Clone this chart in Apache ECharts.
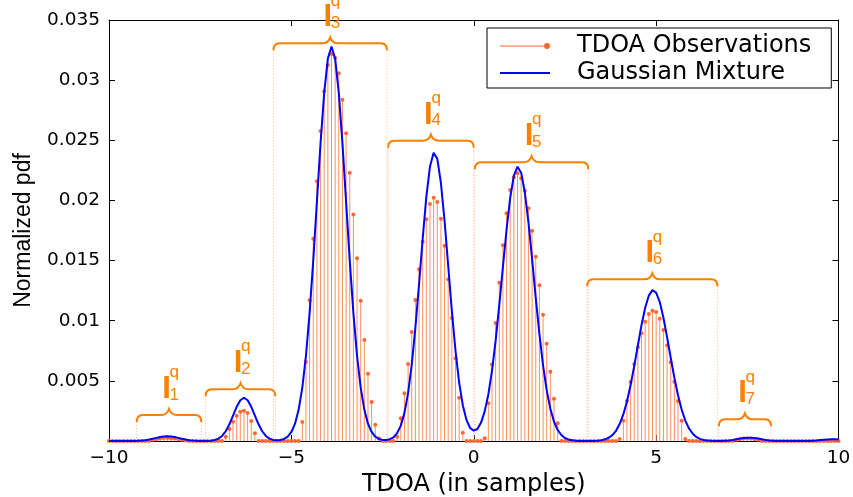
<!DOCTYPE html>
<html>
<head>
<meta charset="utf-8">
<script src="https://cdn.jsdelivr.net/npm/echarts/dist/echarts.min.js"></script>
<style>
html, body { margin: 0; padding: 0; background: #ffffff; }
#chart { width: 853px; height: 497px; }
</style>
</head>
<body>
<div id="chart"></div>
<script>
// TDOA sample positions (samples)
const tdoa = [
  -10, -9.9, -9.8, -9.7, -9.6, -9.5, -9.4, -9.3, -9.2, -9.1,
  -9, -8.9, -8.8, -8.7, -8.6, -8.5, -8.4, -8.3, -8.2, -8.1,
  -8, -7.9, -7.8, -7.7, -7.6, -7.5, -7.4, -7.3, -7.2, -7.1,
  -7, -6.9, -6.8, -6.7, -6.6, -6.5, -6.4, -6.3, -6.2, -6.1,
  -6, -5.9, -5.8, -5.7, -5.6, -5.5, -5.4, -5.3, -5.2, -5.1,
  -5, -4.9, -4.8, -4.7, -4.6, -4.5, -4.4, -4.3, -4.2, -4.1,
  -4, -3.9, -3.8, -3.7, -3.6, -3.5, -3.4, -3.3, -3.2, -3.1,
  -3, -2.9, -2.8, -2.7, -2.6, -2.5, -2.4, -2.3, -2.2, -2.1,
  -2, -1.9, -1.8, -1.7, -1.6, -1.5, -1.4, -1.3, -1.2, -1.1,
  -1, -0.9, -0.8, -0.7, -0.6, -0.5, -0.4, -0.3, -0.2, -0.1,
  0, 0.1, 0.2, 0.3, 0.4, 0.5, 0.6, 0.7, 0.8, 0.9,
  1, 1.1, 1.2, 1.3, 1.4, 1.5, 1.6, 1.7, 1.8, 1.9,
  2, 2.1, 2.2, 2.3, 2.4, 2.5, 2.6, 2.7, 2.8, 2.9,
  3, 3.1, 3.2, 3.3, 3.4, 3.5, 3.6, 3.7, 3.8, 3.9,
  4, 4.1, 4.2, 4.3, 4.4, 4.5, 4.6, 4.7, 4.8, 4.9,
  5, 5.1, 5.2, 5.3, 5.4, 5.5, 5.6, 5.7, 5.8, 5.9,
  6, 6.1, 6.2, 6.3, 6.4, 6.5, 6.6, 6.7, 6.8, 6.9,
  7, 7.1, 7.2, 7.3, 7.4, 7.5, 7.6, 7.7, 7.8, 7.9,
  8, 8.1, 8.2, 8.3, 8.4, 8.5, 8.6, 8.7, 8.8, 8.9,
  9, 9.1, 9.2, 9.3, 9.4, 9.5, 9.6, 9.7, 9.8, 9.9,
  10
];

// Observed normalized pdf (stems)
const observations = [
  0, 0, 0, 0, 0, 0, 0, 0, 0, 0,
  0, 0, 0.0001, 0.00015, 0.0002, 0.00025, 0.00025, 0.0002, 0.0002, 0.00015,
  0.0001, 0.00005, 0, 0, 0, 0, 0, 0, 0, 0,
  0, 0, 0.00036, 0.001, 0.0016, 0.0021, 0.00244, 0.00252, 0.00233, 0.00166,
  0.00064, 0, 0, 0, 0, 0, 0, 0, 0, 0,
  0, 0, 0, 0.00158, 0.00657, 0.0117, 0.01682, 0.02159, 0.02577, 0.02907,
  0.03126, 0.03218, 0.03184, 0.03057, 0.02838, 0.02558, 0.02231, 0.01882, 0.01519, 0.01167,
  0.0084, 0.0056, 0.00324, 0.00136, 0.0002, 0, 0, 0, 0, 0.00036,
  0.00189, 0.00396, 0.0064, 0.00906, 0.01172, 0.01427, 0.01657, 0.01843, 0.0197, 0.02023,
  0.01987, 0.01848, 0.01624, 0.01344, 0.01023, 0.00687, 0.0036, 0.00069, 0, 0,
  0, 0, 0, 0.00022, 0.00313, 0.00637, 0.00981, 0.01316, 0.01627, 0.01893,
  0.02087, 0.02192, 0.02226, 0.02184, 0.02081, 0.01935, 0.01748, 0.01532, 0.01294, 0.0105,
  0.00809, 0.00576, 0.00352, 0.00147, 0, 0, 0, 0, 0, 0,
  0, 0, 0, 0, 0, 0, 0, 0, 0, 0,
  0.00017, 0.00169, 0.00333, 0.0049, 0.0064, 0.00779, 0.00895, 0.00992, 0.01056, 0.01083,
  0.01073, 0.01017, 0.00923, 0.00796, 0.00654, 0.00493, 0.00333, 0.00169, 0.00017, 0,
  0, 0, 0, 0, 0, 0, 0, 0, 0, 0,
  0, 0, 0.0001, 0.00015, 0.0002, 0.0002, 0.0002, 0.00015, 0.0001, 0,
  0, 0, 0, 0, 0, 0, 0, 0, 0, 0,
  0, 0, 0, 0, 0, 0, 0, 0, 0, 0,
  0
];

// Fitted Gaussian mixture pdf
const mixture = [
  0, 0, 0, 0, 0, 0, 0, 0.00001, 0.00002, 0.00004,
  0.00007, 0.00012, 0.00018, 0.00026, 0.00033, 0.00038, 0.0004, 0.00038, 0.00033, 0.00026,
  0.00018, 0.00012, 0.00007, 0.00004, 0.00002, 0.00001, 0, 0.00001, 0.00003, 0.00008,
  0.0002, 0.00042, 0.00081, 0.00139, 0.00211, 0.00284, 0.00339, 0.0036, 0.00339, 0.00284,
  0.00211, 0.00139, 0.00081, 0.00042, 0.0002, 0.00009, 0.00006, 0.00008, 0.00017, 0.00036,
  0.00075, 0.00144, 0.00261, 0.00444, 0.00709, 0.01065, 0.01502, 0.01989, 0.02476, 0.02895,
  0.03179, 0.0328, 0.03179, 0.02895, 0.02476, 0.01989, 0.01502, 0.01065, 0.00709, 0.00444,
  0.00261, 0.00144, 0.00075, 0.00036, 0.00017, 0.00009, 0.00009, 0.00015, 0.00031, 0.00066,
  0.00128, 0.00234, 0.00398, 0.00634, 0.00941, 0.01303, 0.01683, 0.0203, 0.02283, 0.02397,
  0.02347, 0.02145, 0.01829, 0.01456, 0.0108, 0.0075, 0.00486, 0.00297, 0.00175, 0.00108,
  0.00086, 0.001, 0.00153, 0.00246, 0.00387, 0.00583, 0.00834, 0.01129, 0.01448, 0.01758,
  0.02024, 0.02207, 0.0228, 0.0223, 0.02068, 0.01817, 0.01512, 0.0119, 0.0089, 0.00629,
  0.00422, 0.00268, 0.00161, 0.00092, 0.0005, 0.00025, 0.00012, 0.00006, 0.00002, 0.00001,
  0, 0, 0.00001, 0.00001, 0.00003, 0.00007, 0.00014, 0.00027, 0.00049, 0.00085,
  0.00141, 0.00221, 0.00329, 0.00465, 0.00624, 0.00796, 0.00964, 0.01108, 0.01209, 0.01254,
  0.01234, 0.01155, 0.01025, 0.00864, 0.00692, 0.00526, 0.0038, 0.00261, 0.0017, 0.00105,
  0.00062, 0.00034, 0.00018, 0.00009, 0.00004, 0.00002, 0.00001, 0, 0.00001, 0.00003,
  0.00005, 0.00009, 0.00014, 0.0002, 0.00025, 0.00028, 0.00028, 0.00025, 0.0002, 0.00014,
  0.00009, 0.00005, 0.00003, 0.00001, 0, 0, 0, 0, 0, 0,
  0, 0.00001, 0.00001, 0.00003, 0.00005, 0.00008, 0.00011, 0.00013, 0.00015, 0.00015,
  0.00013
];

// Interval braces I^q_k: start, end (samples) and brace level (pdf units)
const segStart = [-9.24, -7.35, -5.49, -2.35, 0.03, 3.11, 6.72];
const segEnd   = [-7.47, -5.44, -2.38, 0.0, 3.14, 6.68, 8.15];
const segLevel = [0.00216, 0.0043, 0.03306, 0.02497, 0.02317, 0.01344, 0.0018];
const segIndex = ['1', '2', '3', '4', '5', '6', '7'];

const seriesNames = ['TDOA Observations', 'Gaussian Mixture'];
const xTitle = 'TDOA (in samples)';
const yTitle = 'Normalized pdf';

const ORANGE = '#ff8000';
const STEM = '#ff8f5e';
const DOT = '#ff6633';
const BLUE = '#0000ff';

const chart = echarts.init(document.getElementById('chart'), null, { renderer: 'canvas' });

function renderStem(params, api) {
  const x = api.value(0);
  const v = api.value(1);
  const top = api.coord([x, v]);
  const base = api.coord([x, 0]);
  const children = [];
  if (v > 0) {
    children.push({
      type: 'line',
      shape: { x1: top[0], y1: base[1], x2: top[0], y2: top[1] },
      style: { stroke: STEM, lineWidth: 1 }
    });
  }
  children.push({
    type: 'circle',
    shape: { cx: top[0], cy: top[1], r: 2 },
    style: { fill: DOT }
  });
  return { type: 'group', children: children };
}

function renderBrace(params, api) {
  const a = api.coord([api.value(0), api.value(2)]);
  const b = api.coord([api.value(1), api.value(2)]);
  const base = api.coord([api.value(0), 0])[1];
  const x1 = a[0], x2 = b[0], y = a[1], tm = (x1 + x2) / 2;
  const d = 7, r = 6, h = 6, w = 8;
  const path = 'M' + x1 + ',' + (y + d) +
    ' Q' + x1 + ',' + y + ' ' + (x1 + r) + ',' + y +
    ' L' + (tm - w) + ',' + y +
    ' Q' + (tm - 2) + ',' + y + ' ' + tm + ',' + (y - h) +
    ' Q' + (tm + 2) + ',' + y + ' ' + (tm + w) + ',' + y +
    ' L' + (x2 - r) + ',' + y +
    ' Q' + x2 + ',' + y + ' ' + x2 + ',' + (y + d);
  const k = segIndex[params.dataIndex];
  const dotted = { stroke: '#ffb48c', lineWidth: 1, lineDash: [1, 2] };
  return {
    type: 'group',
    children: [
      { type: 'line', shape: { x1: x1, y1: y + d, x2: x1, y2: base }, style: dotted },
      { type: 'line', shape: { x1: x2, y1: y + d, x2: x2, y2: base }, style: dotted },
      { type: 'path', shape: { pathData: path }, style: { stroke: ORANGE, fill: null, lineWidth: 2 } },
      { type: 'text', x: tm - 2.5, y: y - h - 19.5,
        style: { text: 'I', fill: ORANGE, fontSize: 31, fontWeight: 'bold', fontFamily: 'Liberation Sans', align: 'center', verticalAlign: 'middle' } },
      { type: 'text', x: tm + 0.5, y: y - h - 36.5,
        style: { text: 'q', fill: ORANGE, fontSize: 17, fontFamily: 'Liberation Sans', align: 'left', verticalAlign: 'middle' } },
      { type: 'text', x: tm + 0.5, y: y - h - 14,
        style: { text: k, fill: ORANGE, fontSize: 17, fontFamily: 'Liberation Sans', align: 'left', verticalAlign: 'middle' } }
    ]
  };
}

const tickFont = { fontFamily: 'DejaVu Sans', fontSize: 18.5, color: '#000' };
const axisLineStyle = { show: true, onZero: false, lineStyle: { color: '#000', width: 1 } };
const tickStyle = { show: true, inside: true, length: 6, lineStyle: { color: '#000', width: 1 } };

const option = {
  animation: false,
  backgroundColor: '#ffffff',
  grid: { left: 109, right: 14.5, top: 20, bottom: 56, containLabel: false, outerBoundsMode: 'none' },
  legend: {
    orient: 'vertical',
    left: 487,
    top: 28,
    itemWidth: 50,
    itemHeight: 6,
    itemGap: 3,
    padding: [6, 20, 3, 13],
    borderColor: '#000',
    borderWidth: 1,
    backgroundColor: '#fff',
    selectedMode: false,
    itemStyle: { borderWidth: 0 },
    textStyle: { fontFamily: 'DejaVu Sans', fontSize: 24, color: '#000', lineHeight: 24, padding: [0, 0, 0, 22] },
    data: [
      { name: seriesNames[0],
        icon: 'path://M0,2.5 L46,2.5 L46,3.5 L0,3.5 Z M50,3 A3,3 0 1,1 44,3 A3,3 0 1,1 50,3 Z',
        itemStyle: { color: DOT, borderWidth: 0 } },
      { name: seriesNames[1],
        icon: 'path://M0,0 L0.01,0 L0.01,0.01 Z M0,2 L50,2 L50,4 L0,4 Z M0,6 L0.01,6 L0.01,5.99 Z',
        itemStyle: { color: BLUE, borderWidth: 0 } }
    ]
  },
  xAxis: [
    {
      type: 'value', position: 'bottom', min: -10, max: 10, interval: 5,
      axisLine: axisLineStyle, axisTick: tickStyle, splitLine: { show: false },
      axisLabel: Object.assign({ margin: 8, formatter: function (v) { return v < 0 ? '\u2212' + Math.abs(v) : String(v); } }, tickFont),
      name: xTitle, nameLocation: 'middle', nameGap: 25,
      nameTextStyle: { fontFamily: 'DejaVu Sans', fontSize: 24, color: '#000' }
    },
    {
      type: 'value', position: 'top', min: -10, max: 10, interval: 5,
      axisLine: axisLineStyle, axisTick: tickStyle, splitLine: { show: false },
      axisLabel: { show: false }
    }
  ],
  yAxis: [
    {
      type: 'value', position: 'left', min: 0, max: 0.035, interval: 0.005,
      axisLine: axisLineStyle, axisTick: tickStyle, splitLine: { show: false },
      axisLabel: Object.assign({ margin: 9, formatter: function (v) { return v === 0 ? '' : String(Number(v.toFixed(3))); } }, tickFont),
      name: yTitle, nameLocation: 'middle', nameGap: 74,
      nameTextStyle: { fontFamily: 'Liberation Sans', fontSize: 23, color: '#000' }
    },
    {
      type: 'value', position: 'right', min: 0, max: 0.035, interval: 0.005,
      axisLine: axisLineStyle, axisTick: tickStyle, splitLine: { show: false },
      axisLabel: { show: false }
    }
  ],
  series: [
    {
      name: seriesNames[0],
      type: 'custom',
      xAxisIndex: 0, yAxisIndex: 0,
      silent: true,
      itemStyle: { color: DOT },
      encode: { x: 0, y: 1 },
      data: tdoa.map(function (x, i) { return [x, observations[i]]; }),
      renderItem: renderStem
    },
    {
      name: seriesNames[1],
      type: 'line',
      xAxisIndex: 0, yAxisIndex: 0,
      silent: true,
      clip: false,
      showSymbol: false,
      symbol: 'none',
      lineStyle: { color: BLUE, width: 2 },
      itemStyle: { color: BLUE },
      data: tdoa.map(function (x, i) { return [x, mixture[i]]; })
    },
    {
      name: 'braces',
      type: 'custom',
      xAxisIndex: 0, yAxisIndex: 0,
      silent: true,
      clip: false,
      encode: { x: [0, 1], y: 2 },
      data: segStart.map(function (s, i) { return [s, segEnd[i], segLevel[i]]; }),
      renderItem: renderBrace
    }
  ]
};

chart.setOption(option);
</script>
</body>
</html>
